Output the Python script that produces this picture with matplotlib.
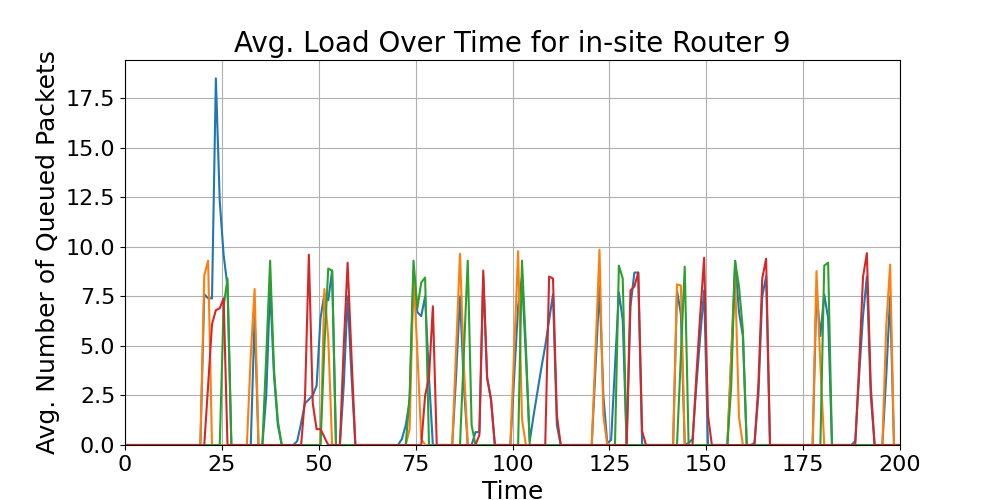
import numpy as np
import matplotlib
matplotlib.use("Agg")
import matplotlib.pyplot as plt

# sample times (one sample per time unit)
times = np.arange(-1, 201) + 0.45

# bursts of non-zero load: (first sample index, values); everything else is 0
blue_bursts = [
    (19, [0, 7.6, 7.4, 7.4, 18.5, 12.3, 9.6, 8.0, 0]),
    (32, [0, 6.5, 0]),
    (35, [0, 2.5, 8.0, 3.5, 1.0, 0]),
    (43, [0, 0.2, 1.1, 2.1, 2.3, 2.5, 3.0, 6.4, 7.6, 7.3, 8.8, 0]),
    (55, [0, 3.0, 7.5, 3.5, 0]),
    (70, [0, 0.3, 1.0, 2.2, 8.7, 6.7, 6.5, 7.5, 3.4, 0]),
    (84, [0, 3.5, 7.5, 3.0, 0, 0, 0.65, 0.65, 8.5, 3.4, 2.3, 0]),
    (99, [0, 3.5, 7.0, 8.5, 4.5, 0.2, 1.5, 2.7, 3.9, 5.0, 6.3, 7.6, 1.0, 0]),
    (120, [0, 4.0, 8.0, 2.5, 0.1, 0.25, 4.0, 7.7, 6.3, 0, 7.0, 8.7, 8.7, 0]),
    (141, [0, 7.8, 6.6, 0, 0.1, 0.3, 3.0, 5.5, 7.8, 0]),
    (155, [0, 4.5, 9.3, 6.7, 5.5, 0, 0, 0.1, 2.5, 7.5, 8.5, 0]),
    (177, [0, 7.8, 5.5, 7.6, 6.4, 0]),
    (187, [0, 0.2, 3.5, 6.5, 8.5, 2.5, 0]),
    (195, [0, 3.5, 7.5, 0]),
]
orange_bursts = [
    (19, [0, 8.55, 9.3, 0]),
    (31, [0, 4.5, 7.87, 0]),
    (50, [0, 7.87, 5.4, 0]),
    (72, [0, 0.8, 8.6, 4.7, 0.3, 0]),
    (84, [0, 4.8, 9.65, 4.0, 0]),
    (99, [0, 4.9, 9.78, 1.3, 0]),
    (120, [0, 4.9, 9.85, 1.5, 0]),
    (141, [0, 8.1, 8.05, 0]),
    (155, [0, 4.5, 8.5, 1.4, 0]),
    (177, [0, 8.77, 4.0, 0]),
    (195, [0, 6.0, 9.1, 0]),
]
green_bursts = [
    (24, [0, 7.0, 8.4, 0]),
    (35, [0, 4.5, 9.3, 3.8, 1.2, 0]),
    (50, [0, 5.0, 8.9, 8.8, 0]),
    (72, [0, 2.5, 9.3, 6.9, 8.2, 8.45, 0]),
    (86, [0, 4.6, 9.3, 1.0, 0]),
    (101, [0, 9.3, 5.0, 0]),
    (126, [0, 9.05, 8.4, 0]),
    (142, [0, 4.5, 9.0, 0]),
    (155, [0, 3.0, 9.27, 8.0, 5.8, 0]),
    (179, [0, 9.05, 9.2, 0]),
]
red_bursts = [
    (20, [0, 3.0, 6.1, 6.8, 6.9, 7.4, 0]),
    (45, [0, 2.4, 9.6, 2.1, 0.8, 0.8, 0.4, 0]),
    (55, [0, 5.0, 9.2, 4.5, 0]),
    (76, [0, 2.5, 3.4, 7.0, 0]),
    (90, [0, 0.5, 8.8, 3.4, 2.3, 0]),
    (108, [0, 8.5, 8.4, 1.5, 0]),
    (129, [0, 7.8, 8.0, 8.7, 0.7, 0]),
    (146, [0, 3.5, 6.6, 9.45, 1.5, 0]),
    (162, [0, 3.0, 8.4, 9.4, 0]),
    (188, [0, 4.0, 8.47, 9.68, 3.0, 0]),
]


def build(bursts):
    y = np.zeros(len(times))
    for start, vals in bursts:
        y[start + 1:start + 1 + len(vals)] = vals
    return y


plt.figure(figsize=(10, 5), dpi=100)
for bursts in (blue_bursts, orange_bursts, green_bursts, red_bursts):
    plt.plot(times, build(bursts))

plt.title("Avg. Load Over Time for in-site Router 9", fontsize=20)
plt.xlabel("Time", fontsize=18)
plt.ylabel("Avg. Number of Queued Packets", fontsize=18)
plt.xticks(fontsize=16)
plt.yticks(fontsize=16)
plt.xlim(0, 200)
plt.ylim(bottom=0)
plt.grid(True)
plt.savefig("out.png")
